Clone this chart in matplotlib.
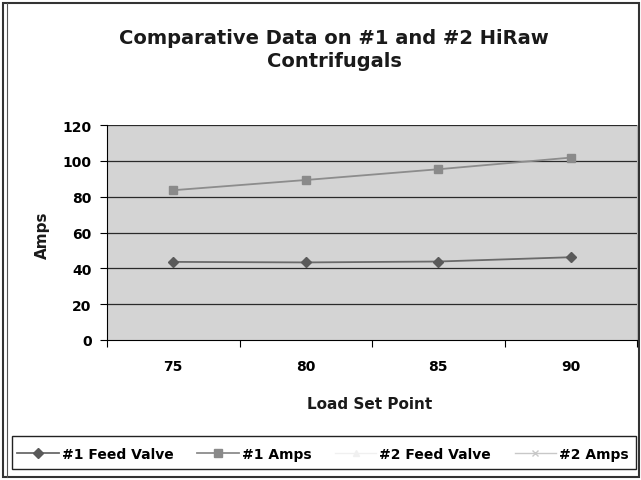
import matplotlib
matplotlib.use("Agg")
import matplotlib.pyplot as plt
import numpy as np
from matplotlib.patches import Rectangle
from matplotlib.lines import Line2D

categories = ["75", "80", "85", "90"]
feed1 = [43.6, 43.3, 43.8, 46.2]
amps1 = [83.6, 89.3, 95.3, 101.8]
feed2 = [np.nan, np.nan, np.nan, np.nan]
amps2 = [np.nan, np.nan, np.nan, np.nan]
yticks = [0, 20, 40, 60, 80, 100, 120]

plt.rcParams['font.family'] = ['DejaVu Sans']
W, H = 641, 481
fig = plt.figure(figsize=(W / 100, H / 100), dpi=100)
fig.patch.set_facecolor('white')

def fx(px):
    return px / W

def fy(py):
    return 1 - py / H

ax = fig.add_axes([fx(107), fy(341), fx(637) - fx(107), fy(126) - fy(341)])
ax.set_facecolor('#d4d4d4')
x = np.arange(len(categories))

l1, = ax.plot(x, feed1, color='#6a6a6a', lw=1.3, marker='D', ms=5,
              mfc='#5a5a5a', mec='#5a5a5a', label='#1 Feed Valve', zorder=3)
l2, = ax.plot(x, amps1, color='#8c8c8c', lw=1.3, marker='s', ms=6,
              mfc='#8a8a8a', mec='#8a8a8a', label='#1 Amps', zorder=3)
l3, = ax.plot(x, feed2, color='#f0f0f0', lw=1.0, marker='^', ms=4,
              mfc='#f0f0f0', mec='#f0f0f0', label='#2 Feed Valve', zorder=3)
l4, = ax.plot(x, amps2, color='#c8c8c8', lw=1.0, marker='x', ms=4,
              mfc='#c8c8c8', mec='#c8c8c8', label='#2 Amps', zorder=3)

ax.set_xlim(-0.5, len(categories) - 0.5)
ax.set_ylim(0, 120)
ax.set_yticks(yticks)
ax.set_yticklabels([str(v) for v in yticks], fontsize=10, fontweight='bold')
ax.set_xticks(x)
ax.set_xticklabels(categories, fontsize=10, fontweight='bold')
ax.set_xticks(np.arange(-0.5, len(categories) + 0.5, 1), minor=True)
ax.tick_params(axis='x', which='major', length=0, pad=14)
ax.tick_params(axis='x', which='minor', length=5, direction='out', width=0.8)
ax.tick_params(axis='y', length=5, direction='out', width=0.8, pad=6)

for v in yticks[1:]:
    ax.axhline(v, color='#2a2a2a', lw=0.9, zorder=1)
ax.spines['top'].set_visible(False)
ax.spines['right'].set_color('#b8b8b8')
ax.spines['left'].set_color('black')
ax.spines['bottom'].set_color('black')

fig.text(fx(334), fy(50), "Comparative Data on #1 and #2 HiRaw\nContrifugals",
         ha='center', va='center', fontsize=14, fontweight='bold',
         linespacing=1.3, color='#1a1a1a')
fig.text(fx(370), fy(405), "Load Set Point", ha='center', va='center',
         fontsize=11, fontweight='bold', color='#1a1a1a')
fig.text(fx(42), fy(235), "Amps", ha='center', va='center', rotation=90,
         fontsize=11, fontweight='bold', color='#1a1a1a')

leg = fig.legend(handles=[l1, l2, l3, l4], loc='center',
                 bbox_to_anchor=(fx(323), fy(455)),
                 ncol=4, frameon=False,
                 borderaxespad=0, handlelength=3.0, handletextpad=0.2,
                 columnspacing=1.7, borderpad=0.3,
                 prop={'size': 10, 'weight': 'bold'})

fig.add_artist(Rectangle((fx(12), fy(470)), fx(636) - fx(12), fy(437) - fy(470),
                         transform=fig.transFigure, fill=False,
                         edgecolor='#222222', lw=1.0))
fig.add_artist(Rectangle((fx(3), fy(478)), fx(639) - fx(3), fy(4) - fy(478),
                         transform=fig.transFigure, fill=False,
                         edgecolor='#333333', lw=1.5))
fig.add_artist(Line2D([fx(7), fx(7)], [fy(478), fy(4)], transform=fig.transFigure,
                      color='#555555', lw=0.8))

fig.savefig('out.png', dpi=100)
